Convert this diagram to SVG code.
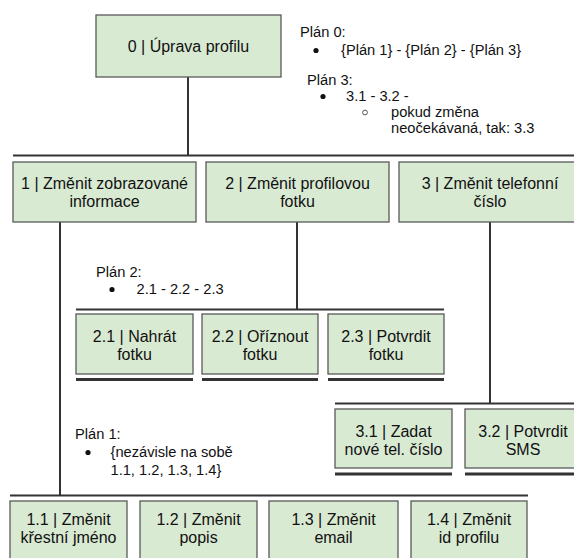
<svg xmlns="http://www.w3.org/2000/svg" width="574" height="558" viewBox="0 0 574 558">
<style>
.box{fill:#d9ead3;stroke:#595959;stroke-width:1.3}
.lbl{font-family:"Liberation Sans",Arial,sans-serif;font-size:16px;fill:#111;text-anchor:middle}
.pl{font-family:"Liberation Sans",Arial,sans-serif;font-size:14.67px;fill:#111}
.ln{stroke:#333;stroke-width:2;fill:none}
.bl{stroke:#333;stroke-width:3;fill:none}
.dot{fill:#111}
.ring{fill:none;stroke:#444;stroke-width:0.9}
</style>
<rect width="574" height="558" fill="#fff"/>
<g id="connectors">
<line class="ln" x1="188" y1="77" x2="188" y2="155.5"/>
<line class="ln" x1="13" y1="155.5" x2="574" y2="155.5"/>
<line class="ln" x1="60" y1="222" x2="60" y2="495.5"/>
<line class="ln" x1="297" y1="222" x2="297" y2="309.5"/>
<line class="ln" x1="490" y1="222" x2="490" y2="403.5"/>
<line class="ln" x1="76" y1="309.5" x2="444" y2="309.5"/>
<line class="bl" x1="76" y1="379.5" x2="193" y2="379.5"/>
<line class="bl" x1="202" y1="379.5" x2="318" y2="379.5"/>
<line class="bl" x1="328" y1="379.5" x2="444" y2="379.5"/>
<line class="ln" x1="335" y1="403.5" x2="574" y2="403.5"/>
<line class="bl" x1="335" y1="474" x2="452" y2="474"/>
<line class="bl" x1="465" y1="474" x2="574" y2="474"/>
<line class="ln" x1="10" y1="495.5" x2="528" y2="495.5"/>
</g>
<g id="node0"><rect class="box" x="96" y="15" width="185" height="62"/><text class="lbl" x="188.5" y="52">0 | Úprava profilu</text></g>
<g id="node1"><rect class="box" x="13" y="162" width="183" height="60"/><text class="lbl" x="104.5" y="189">1 | Změnit zobrazované</text><text class="lbl" x="104.5" y="207">informace</text></g>
<g id="node2"><rect class="box" x="206" y="162" width="183" height="60"/><text class="lbl" x="297.5" y="189">2 | Změnit profilovou</text><text class="lbl" x="297.5" y="207">fotku</text></g>
<g id="node3"><rect class="box" x="399" y="162" width="183" height="60"/><text class="lbl" x="490" y="189">3 | Změnit telefonní</text><text class="lbl" x="490" y="207">číslo</text></g>
<g id="node2_1"><rect class="box" x="76" y="314" width="117" height="60"/><text class="lbl" x="134.5" y="342">2.1 | Nahrát</text><text class="lbl" x="134.5" y="360">fotku</text></g>
<g id="node2_2"><rect class="box" x="202" y="314" width="116" height="60"/><text class="lbl" x="260" y="342">2.2 | Oříznout</text><text class="lbl" x="260" y="360">fotku</text></g>
<g id="node2_3"><rect class="box" x="328" y="314" width="116" height="60"/><text class="lbl" x="386" y="342">2.3 | Potvrdit</text><text class="lbl" x="386" y="360">fotku</text></g>
<g id="node3_1"><rect class="box" x="335" y="409" width="117" height="59"/><text class="lbl" x="393.5" y="437">3.1 | Zadat</text><text class="lbl" x="393.5" y="455">nové tel. číslo</text></g>
<g id="node3_2"><rect class="box" x="465" y="409" width="117" height="59"/><text class="lbl" x="523" y="437">3.2 | Potvrdit</text><text class="lbl" x="523" y="455">SMS</text></g>
<g id="node1_1"><rect class="box" x="10" y="501" width="117" height="62"/><text class="lbl" x="68.5" y="525">1.1 | Změnit</text><text class="lbl" x="68.5" y="543">křestní jméno</text></g>
<g id="node1_2"><rect class="box" x="140" y="501" width="117" height="62"/><text class="lbl" x="198.5" y="525">1.2 | Změnit</text><text class="lbl" x="198.5" y="543">popis</text></g>
<g id="node1_3"><rect class="box" x="269" y="501" width="129" height="62"/><text class="lbl" x="333.5" y="525">1.3 | Změnit</text><text class="lbl" x="333.5" y="543">email</text></g>
<g id="node1_4"><rect class="box" x="411" y="501" width="116" height="62"/><text class="lbl" x="469" y="525">1.4 | Změnit</text><text class="lbl" x="469" y="543">id profilu</text></g>
<g id="plan0">
<text class="pl" x="300" y="37">Plán 0:</text>
<circle class="dot" cx="316" cy="50.5" r="2.6"/>
<text class="pl" x="341" y="55">{Plán 1} - {Plán 2} - {Plán 3}</text>
</g>
<g id="plan3">
<text class="pl" x="307" y="85">Plán 3:</text>
<circle class="dot" cx="323" cy="96.5" r="2.6"/>
<text class="pl" x="346" y="101">3.1 - 3.2 -</text>
<circle class="ring" cx="365" cy="112.5" r="2.4"/>
<text class="pl" x="391" y="117">pokud změna</text>
<text class="pl" x="391" y="133">neočekávaná, tak: 3.3</text>
</g>
<g id="plan2">
<text class="pl" x="96" y="277">Plán 2:</text>
<circle class="dot" cx="112" cy="289.5" r="2.6"/>
<text class="pl" x="136.5" y="294">2.1 - 2.2 - 2.3</text>
</g>
<g id="plan1">
<text class="pl" x="75" y="439">Plán 1:</text>
<circle class="dot" cx="88" cy="452.5" r="2.6"/>
<text class="pl" x="110.5" y="457">{nezávisle na sobě</text>
<text class="pl" x="110.5" y="475">1.1, 1.2, 1.3, 1.4}</text>
</g>
</svg>
